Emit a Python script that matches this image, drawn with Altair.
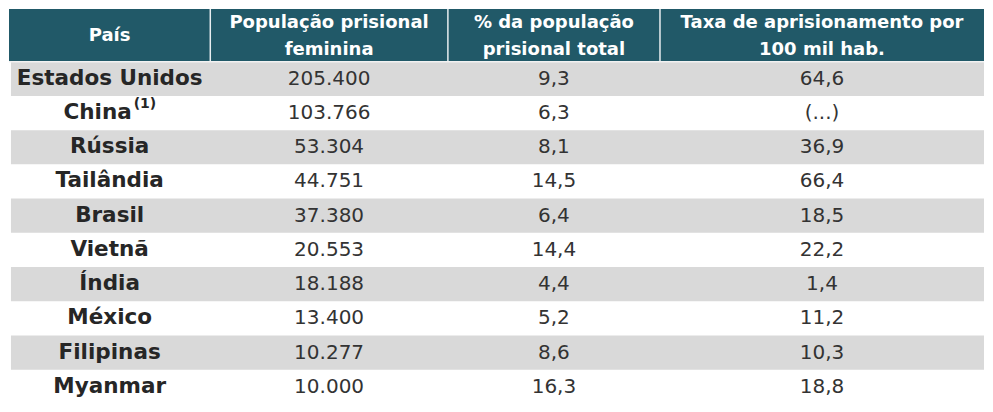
import altair as alt
import pandas as pd

countries = ["Estados Unidos", "China", "Rússia", "Tailândia", "Brasil",
             "Vietnã", "Índia", "México", "Filipinas", "Myanmar"]
pop_fem = ["205.400", "103.766", "53.304", "44.751", "37.380",
           "20.553", "18.188", "13.400", "10.277", "10.000"]
pct_total = ["9,3", "6,3", "8,1", "14,5", "6,4", "14,4", "4,4", "5,2", "8,6", "16,3"]
taxa = ["64,6", "(...)", "36,9", "66,4", "18,5", "22,2", "1,4", "11,2", "10,3", "18,8"]
header_line1 = ["País", "População prisional", "% da população", "Taxa de aprisionamento por"]
header_line2 = ["", "feminina", "prisional total", "100 mil hab."]
footnotes = {"China": "(1)"}

# ---- layout (reference pixel units) ----
col_edges = [0, 205, 447, 663, 993]
header_h = 54
row_h = 35.1
total_h = header_h + row_h * len(countries)
col_center = [(col_edges[i] + col_edges[i + 1]) / 2 for i in range(4)]

FONT = "DejaVu Sans"
TEAL = "#215968"
GRAY = "#d9d9d9"

xs = alt.Scale(domain=[0, col_edges[-1]], nice=False, zero=False)
ys = alt.Scale(domain=[0, total_h], nice=False, zero=False, reverse=True)

def X(f="x"):
    return alt.X(f"{f}:Q", scale=xs, axis=None)

def Y(f="y"):
    return alt.Y(f"{f}:Q", scale=ys, axis=None)

# header background
hdr = pd.DataFrame({"x": [col_edges[0]], "x2": [col_edges[-1]], "y": [0], "y2": [header_h]})
hdr_rect = alt.Chart(hdr).mark_rect(color=TEAL).encode(
    x=X(), x2="x2:Q", y=Y(), y2="y2:Q")

# striped rows
stripe_rows = [i for i in range(len(countries)) if i % 2 == 0]
stripes = pd.DataFrame({
    "x": [col_edges[0] + 2] * len(stripe_rows),
    "x2": [col_edges[-1]] * len(stripe_rows),
    "y": [header_h + row_h * i for i in stripe_rows],
    "y2": [header_h + row_h * (i + 1) for i in stripe_rows],
})
stripe_rect = alt.Chart(stripes).mark_rect(color=GRAY).encode(
    x=X(), x2="x2:Q", y=Y(), y2="y2:Q")

# header separators
seps = pd.DataFrame({"x": col_edges[1:-1], "y": [0] * 3, "y2": [header_h] * 3})
sep_rules = alt.Chart(seps).mark_rule(color="#e8eef0", strokeWidth=1.5).encode(
    x=X(), y=Y(), y2="y2:Q")

# line between header and body
hline = pd.DataFrame({"x": [col_edges[0]], "x2": [col_edges[-1]], "y": [header_h]})
h_rule = alt.Chart(hline).mark_rule(color="#f2f2f2", strokeWidth=1.5).encode(
    x=X(), x2="x2:Q", y=Y())

# header texts
hrows = []
for i in range(4):
    if header_line2[i]:
        hrows.append({"x": col_center[i], "y": header_h * 0.27, "t": header_line1[i]})
        hrows.append({"x": col_center[i], "y": header_h * 0.77, "t": header_line2[i]})
    else:
        hrows.append({"x": col_center[i], "y": header_h * 0.52, "t": header_line1[i]})
hdr_text = alt.Chart(pd.DataFrame(hrows)).mark_text(
    font=FONT, fontSize=18, fontWeight="bold", color="white", baseline="middle", align="center"
).encode(x=X(), y=Y(), text="t:N")

# body
ycent = [header_h + row_h * (i + 0.5) for i in range(len(countries))]
body_c = pd.DataFrame({"x": [col_center[0]] * len(countries), "y": ycent, "t": countries})
body_c_plain = body_c[~body_c["t"].isin(footnotes.keys())]
body_c_note = body_c[body_c["t"].isin(footnotes.keys())].copy()
body_c_note["n"] = body_c_note["t"].map(footnotes)

country_text = alt.Chart(body_c_plain).mark_text(
    font=FONT, fontSize=21.5, fontWeight="bold", color="#262626", baseline="middle", align="center"
).encode(x=X(), y=Y(), text="t:N")

country_note_name = alt.Chart(body_c_note).mark_text(
    font=FONT, fontSize=21.5, fontWeight="bold", color="#262626", baseline="middle", align="center", dx=-12
).encode(x=X(), y=Y(), text="t:N")

country_note_sup = alt.Chart(body_c_note).mark_text(
    font=FONT, fontSize=14, fontWeight="bold", color="#262626", baseline="middle", align="left", dx=24, dy=-9
).encode(x=X(), y=Y(), text="n:N")

vals = []
for j, col in enumerate([pop_fem, pct_total, taxa]):
    for i, v in enumerate(col):
        vals.append({"x": col_center[j + 1], "y": ycent[i], "t": v})
val_text = alt.Chart(pd.DataFrame(vals)).mark_text(
    font=FONT, fontSize=20, color="#333333", baseline="middle", align="center"
).encode(x=X(), y=Y(), text="t:N")

chart = alt.layer(
    hdr_rect, stripe_rect, sep_rules, h_rule, hdr_text,
    country_text, country_note_name, country_note_sup, val_text
).properties(
    width=977, height=396,
    autosize=alt.AutoSizeParams(type="fit", contains="padding"),
    padding=0, background="white"
).configure_view(stroke=None)

chart.save("out.html", embed_options={"renderer": "svg", "actions": False})
